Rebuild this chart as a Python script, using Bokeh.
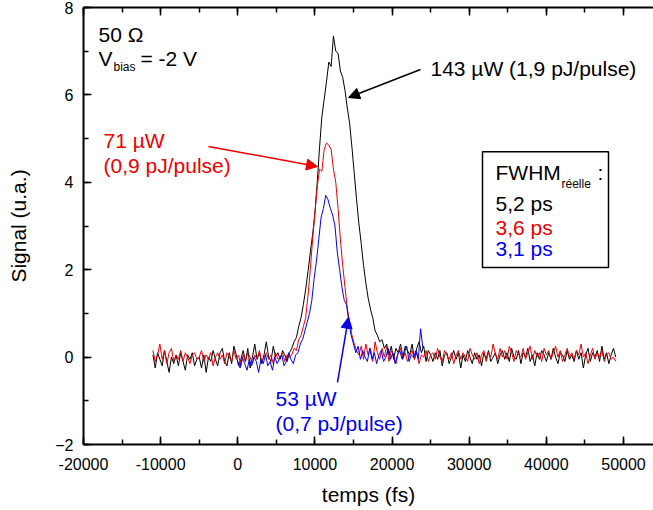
import numpy as np
from bokeh.plotting import figure
from bokeh.models import (LinearAxis, SingleIntervalTicker, NumeralTickFormatter, Label,
                          Arrow, NormalHead, BoxAnnotation, Range1d, CustomJSTickFormatter)
from bokeh.embed import file_html
from bokeh.resources import INLINE

# ---------------- data ----------------
# time grid (fs): black & red traces start at -11000 fs, blue at 0 fs, 300 fs step
black_x0, red_x0, blue_x0, step = -11000, -11000, 0, 300

black_y = [
    0.05, -0.25, 0.10, -0.05, -0.20, 0.15, -0.10, -0.35, 0.00, -0.15,
    0.05, -0.20, 0.10, -0.10, -0.30, 0.05, -0.05, 0.10, -0.20, -0.05,
    0.00, -0.25, 0.05, -0.35, 0.00, -0.10, 0.15, -0.05, -0.20, 0.10,
    0.20, -0.10, -0.20, 0.10, -0.15, 0.25, 0.05, -0.20, -0.05, 0.15,
    -0.10, 0.20, -0.25, 0.00, 0.30, -0.05, 0.10, -0.15, 0.05, 0.35,
    0.00, -0.10, 0.25, 0.00, 0.10, -0.05, 0.15, 0.05, -0.10, 0.10,
    0.20, 0.35, 0.45, 0.70, 0.90, 1.20, 1.55, 1.95, 2.40, 2.80,
    3.30, 4.00, 4.80, 5.50, 5.90, 6.30, 6.75, 6.65, 7.35, 7.00,
    6.95, 6.55, 6.40, 6.10, 5.70, 5.35, 4.80, 4.20, 3.60, 3.05,
    2.60, 2.10, 1.70, 1.35, 1.10, 0.90, 0.60, 0.50, 0.35, 0.40,
    0.20,
    0.30, 0.05, 0.25, -0.05, 0.20, 0.10, 0.30, 0.00, 0.25, 0.15,
    0.05, 0.30, -0.05, 0.20, 0.35, 0.10, 0.25, -0.10, 0.15, 0.05,
    -0.10, 0.10, -0.05, 0.15, -0.20, 0.05, 0.10, -0.15, 0.00, 0.15,
    -0.05, 0.10, -0.25, 0.05, -0.10, 0.15, 0.00, -0.15, 0.10, -0.05,
    0.05, -0.20, 0.10, -0.05, 0.15, -0.10, 0.00, 0.10, -0.15, 0.05,
    0.15, -0.05, 0.10, -0.10, 0.20, 0.00, -0.05, 0.15, -0.15, 0.10,
    0.00, 0.20, -0.10, 0.05, -0.20, 0.10, -0.05, 0.15, 0.05, -0.10,
    0.10, -0.05, 0.20, 0.00, -0.15, 0.10, 0.05, -0.10, 0.15, -0.05,
    0.05, -0.10, 0.15, -0.05, 0.10, -0.25, 0.05, 0.20, -0.10, 0.10,
    0.00, 0.15, -0.10, 0.25, -0.05, 0.10, -0.15, 0.05, 0.20, 0.00,
]

red_y = [
    0.15, -0.10, 0.05, 0.30, -0.05, 0.15, -0.15, 0.10, 0.20, -0.10,
    0.05, -0.05, 0.15, -0.10, 0.10, 0.00, -0.15, 0.05, 0.10, -0.05,
    0.00, 0.15, -0.10, 0.05, -0.05, 0.10, -0.20, 0.00, 0.10, -0.05,
    0.05, -0.15, 0.10, 0.00, -0.10, 0.15, -0.05, 0.05, -0.20, 0.05,
    -0.10, 0.10, 0.00, -0.15, 0.05, -0.05, 0.15, -0.10, 0.00, 0.10,
    -0.05, 0.05, -0.15, 0.10, -0.05, 0.00, 0.10, -0.10, 0.05, 0.00,
    0.05, 0.20, 0.15, 0.40, 0.50, 0.70, 0.90, 1.40, 2.00, 2.70,
    3.30, 3.90, 4.30, 4.25, 4.75, 4.90, 4.85, 4.75, 4.30, 4.00,
    3.40, 2.70, 2.10, 1.60, 1.10, 0.80, 0.50, 0.30, 0.15,
    0.05, 0.25, -0.05, 0.30, 0.05, 0.20, -0.10, 0.35, 0.10, -0.05,
    0.20, 0.00, 0.25, -0.10, 0.15, 0.05, -0.15, 0.10, 0.20, -0.05,
    0.10, -0.10, 0.05, 0.15, -0.05, 0.10, -0.15, 0.05, 0.00, 0.15,
    -0.10, 0.05, 0.10, -0.05, 0.20, 0.00, -0.10, 0.15, 0.05, -0.05,
    0.10, -0.15, 0.05, 0.15, -0.05, 0.10, 0.00, -0.10, 0.20, 0.05,
    -0.05, 0.10, -0.15, 0.05, 0.15, -0.10, 0.10, 0.00, 0.30, 0.05,
    -0.05, 0.20, 0.00, 0.15, -0.05, 0.25, 0.10, -0.10, 0.15, 0.05,
    0.00, 0.20, -0.05, 0.10, 0.25, -0.05, 0.15, 0.00, 0.10, -0.10,
    0.20, 0.05, 0.15, -0.05, 0.10, 0.25, 0.00, 0.15, -0.10, 0.05,
    0.20, 0.00, 0.10, -0.05, 0.15, 0.05, 0.30, 0.00, 0.10, -0.15,
    0.05, 0.20, -0.05, 0.10, 0.00, 0.15, -0.10, 0.05, 0.10, -0.05,
    0.00, -0.10,
]

blue_y = [
    -0.10, -0.25, 0.00, -0.15, -0.30, -0.05, -0.20, 0.00, -0.10, -0.35,
    -0.05, -0.15, 0.05, -0.20, -0.10, -0.30, 0.00, -0.15, -0.05, 0.05,
    -0.20, -0.10, 0.10, -0.05, -0.15, 0.05, 0.10,
    0.30, 0.40, 0.60, 0.80, 1.00, 1.30, 1.80, 2.20, 2.70, 3.20,
    3.40, 3.70, 3.60, 3.40, 3.25, 3.00, 2.40, 2.00, 1.60, 1.30,
    1.20, 0.80, 0.50, 0.30, 0.10,
    0.25, -0.05, 0.15, 0.00, -0.10, 0.20, -0.05, 0.10, -0.15, 0.05,
    0.15, -0.10, 0.00, 0.20, -0.05, 0.10, -0.15, 0.05, 0.15, -0.05,
    0.10, 0.25, -0.10, 0.05, 0.00, 0.15, -0.05, 0.65, 0.20,
]

black_x = black_x0 + step * np.arange(len(black_y))
red_x = red_x0 + step * np.arange(len(red_y))
blue_x = blue_x0 + step * np.arange(len(blue_y))

FONT = "Liberation Sans"
RED, BLUE = "#ee0000", "#0000ee"

# ---------------- figure ----------------
p = figure(width=653, height=510, output_backend="svg", toolbar_location=None,
           x_range=Range1d(-20000, 53890), y_range=Range1d(-2, 8),
           min_border_left=83, min_border_right=0, min_border_top=7, min_border_bottom=66,
           x_axis_label="temps (fs)", y_axis_label="Signal (u.a.)")
p.outline_line_color = None
p.xgrid.visible = False
p.ygrid.visible = False
p.background_fill_color = "white"
p.border_fill_color = "white"

p.xaxis.ticker = SingleIntervalTicker(interval=10000, num_minor_ticks=2)
p.yaxis.ticker = SingleIntervalTicker(interval=2, num_minor_ticks=2)
p.xaxis.formatter = NumeralTickFormatter(format="0")

for ax in (p.xaxis[0], p.yaxis[0]):
    ax.axis_line_width = 2
    ax.axis_line_color = "black"
    ax.major_tick_in = 8
    ax.major_tick_out = 0
    ax.minor_tick_in = 5
    ax.minor_tick_out = 0
    ax.major_tick_line_width = 1.5
    ax.minor_tick_line_width = 1.5
    ax.major_label_text_font = FONT
    ax.major_label_text_font_size = "16px"
    ax.major_label_text_color = "black"
    ax.axis_label_text_font = FONT
    ax.axis_label_text_font_size = "21px"
    ax.axis_label_text_font_style = "normal"
    ax.axis_label_text_color = "black"
p.xaxis.major_label_standoff = 13
p.xaxis.axis_label_standoff = 10
p.yaxis.major_label_standoff = 10
p.yaxis.axis_label_standoff = 22

blank = CustomJSTickFormatter(code="return ''")
top = LinearAxis(ticker=SingleIntervalTicker(interval=10000, num_minor_ticks=2),
                 formatter=blank, major_label_standoff=0,
                 axis_line_width=2, major_tick_in=8, major_tick_out=0,
                 minor_tick_in=5, minor_tick_out=0,
                 major_tick_line_width=1.5, minor_tick_line_width=1.5)
p.add_layout(top, "above")

# ---------------- traces ----------------
p.line(black_x, black_y, line_color="black", line_width=1)
p.line(red_x, red_y, line_color=RED, line_width=1)
p.line(blue_x, blue_y, line_color=BLUE, line_width=1)

# ---------------- annotations ----------------
def lab(x, y, text, color="black", size="21px", align="left"):
    p.add_layout(Label(x=x, y=y, text=text, text_color=color, text_font=FONT,
                       text_font_size=size, text_align=align, text_baseline="middle"))

lab(-18056, 7.39, "50 Ω")
lab(-18056, 6.83, "V")
lab(-16111, 6.63, "bias", size="12px")
lab(-12611, 6.83, "= -2 V")

lab(-17407, 4.95, "71 µW", RED)
lab(-17407, 4.38, "(0,9 pJ/pulse)", RED)
lab(24981, 6.60, "143 µW (1,9 pJ/pulse)")
lab(4889, -0.95, "53 µW", BLUE)
lab(4889, -1.52, "(0,7 pJ/pulse)", BLUE)

p.add_layout(Arrow(end=NormalHead(size=11, fill_color=RED, line_color=RED),
                   x_start=-3796, y_start=4.82, x_end=10333, y_end=4.36,
                   line_color=RED, line_width=1.5))
p.add_layout(Arrow(end=NormalHead(size=11, fill_color="black", line_color="black"),
                   x_start=23685, y_start=6.58, x_end=14352, y_end=5.94,
                   line_color="black", line_width=1.5))
p.add_layout(Arrow(end=NormalHead(size=11, fill_color=BLUE, line_color=BLUE),
                   x_start=12926, y_start=-0.58, x_end=14352, y_end=0.91,
                   line_color=BLUE, line_width=1.5))

# legend-like box
p.add_layout(BoxAnnotation(left=31722, right=48056, bottom=2.05, top=4.70,
                           fill_color="white", fill_alpha=1.0,
                           line_color="black", line_width=1.5, line_alpha=1.0))
lab(33407, 4.22, "FWHM")
lab(41963, 3.97, "réelle", size="12px")
lab(46630, 4.22, ":")
lab(33407, 3.51, "5,2 ps")
lab(33407, 2.96, "3,6 ps", RED)
lab(33407, 2.48, "3,1 ps", BLUE)

open("out.html", "w").write(file_html(p, INLINE))
